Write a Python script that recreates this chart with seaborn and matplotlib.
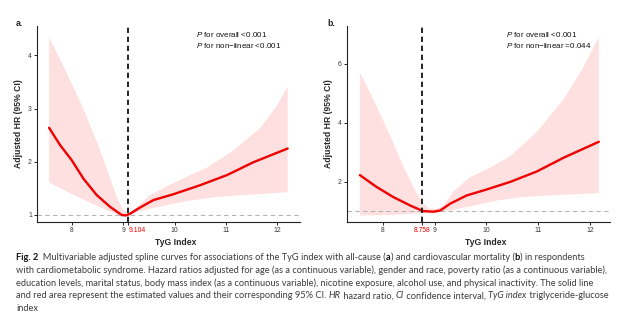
import matplotlib
matplotlib.use("Agg")
import matplotlib.pyplot as plt
import seaborn as sns
import pandas as pd
import numpy as np

# ---- data: restricted cubic spline estimates (HR and 95% CI) ----
# (a) all-cause mortality
tyg_a = [7.56, 7.77, 8.0, 8.23, 8.49, 8.75, 8.97, 9.05, 9.13, 9.33, 9.59, 9.98, 10.5, 11.02, 11.53, 12.2]
hr_a = [2.64, 2.32, 2.03, 1.68, 1.37, 1.15, 1.0, 0.99, 1.02, 1.14, 1.28, 1.39, 1.56, 1.75, 1.99, 2.25]
tyg_a_upper = [7.56, 7.90, 8.23, 8.55, 8.75, 8.88, 9.0, 9.13, 9.33, 9.52, 9.85, 10.24, 10.63, 11.14, 11.66, 11.99, 12.2]
hr_a_upper = [4.34, 3.68, 2.99, 2.23, 1.68, 1.33, 1.09, 1.04, 1.2, 1.37, 1.54, 1.72, 1.89, 2.21, 2.63, 3.05, 3.42]
tyg_a_lower = [7.56, 7.90, 8.29, 8.68, 8.97, 9.13, 9.33, 9.72, 10.24, 10.75, 11.27, 11.79, 12.2]
hr_a_lower = [1.61, 1.44, 1.26, 1.09, 0.97, 0.99, 1.07, 1.16, 1.26, 1.33, 1.37, 1.40, 1.43]

# (b) cardiovascular mortality
tyg_b = [7.56, 7.88, 8.2, 8.53, 8.78, 8.98, 9.11, 9.3, 9.62, 10.0, 10.46, 10.97, 11.49, 12.17]
hr_b = [2.22, 1.82, 1.48, 1.19, 1.0, 0.98, 1.02, 1.25, 1.53, 1.73, 1.99, 2.34, 2.81, 3.35]
tyg_b_upper = [7.56, 7.88, 8.2, 8.4, 8.53, 8.66, 8.78, 8.91, 9.04, 9.17, 9.36, 9.69, 10.0, 10.46, 10.97, 11.49, 11.87, 12.17]
hr_b_upper = [5.71, 4.57, 3.33, 2.51, 2.05, 1.59, 1.25, 1.08, 1.08, 1.19, 1.65, 2.16, 2.40, 2.86, 3.68, 4.79, 5.87, 6.90]
tyg_b_lower = [7.56, 8.2, 8.72, 8.98, 9.3, 9.69, 10.2, 10.71, 11.23, 12.17]
hr_b_lower = [0.85, 0.87, 0.93, 0.92, 1.02, 1.16, 1.36, 1.48, 1.53, 1.61]

cutoff_a = 9.104
cutoff_b = 8.758
x_ticks = [8, 9, 10, 11, 12]
y_ticks_a = [1, 2, 3, 4]
y_ticks_b = [2, 4, 6]
p_text_a = ["for overall <0.001", "for non\u2212linear <0.001"]
p_text_b = ["for overall <0.001", "for non\u2212linear =0.044"]

sns.set_theme(style="ticks")
plt.rcParams["font.family"] = ["Liberation Sans", "DejaVu Sans"]
plt.rcParams["mathtext.fontset"] = "custom"
plt.rcParams["mathtext.it"] = "Liberation Sans:italic"
plt.rcParams["mathtext.rm"] = "Liberation Sans"

W, H = 618, 325
fig = plt.figure(figsize=(W / 100, H / 100), dpi=100)


def px_box(left, top, right, bottom):
    return [left / W, 1 - bottom / H, (right - left) / W, (bottom - top) / H]


RED = "#F00000"
BAND = "#FFE0E0"
TICK_C = "#3A3A3A"


def draw_panel(ax, x, hr, xu, hi, xl, lo, cutoff, yticks, xlim, ylim, ptext, cut_ha):
    df = pd.DataFrame({"TyG": x, "HR": hr})
    # confidence band as a closed polygon: upper bound forward, lower bound back
    ax.fill(list(xu) + list(xl)[::-1], list(hi) + list(lo)[::-1], color=BAND, lw=0, zorder=1)
    ax.axhline(1, color="#B5B5B5", lw=0.8, ls=(0, (4, 3)), zorder=2)
    sns.lineplot(data=df, x="TyG", y="HR", ax=ax, color=RED, lw=1.7, zorder=3)
    ax.axvline(cutoff, color="black", lw=1.2, ls=(0, (3.2, 2.2)), zorder=4)
    ax.set_xlim(*xlim)
    ax.set_ylim(*ylim)
    ticks = sorted(x_ticks + [cutoff])
    ax.set_xticks(ticks)
    ax.set_xticklabels([(f"{t:g}" if t != cutoff else f"{cutoff:.3f}") for t in ticks])
    ax.set_yticks(yticks)
    ax.tick_params(axis="both", labelsize=4.9, length=2.2, width=0.6, pad=1.5,
                   colors="black", labelcolor=TICK_C)
    for t, lab in zip(ticks, ax.get_xticklabels()):
        if t == cutoff:
            lab.set_color(RED)
            lab.set_ha(cut_ha)
    sns.despine(ax=ax)
    for s in ("left", "bottom"):
        ax.spines[s].set_linewidth(0.8)
        ax.spines[s].set_color("#222222")
    ax.set_xlabel("")
    ax.set_ylabel("Adjusted HR (95% CI)", fontsize=6.2, fontweight="bold", labelpad=3.5)
    ax.set_facecolor("white")
    for i, s in enumerate(ptext):
        ax.text(0.605, 0.955 - i * 0.055, r"$\it{P}$ " + s, transform=ax.transAxes,
                fontsize=5.8, va="center", ha="left", color="#111111")


ax_a = fig.add_axes(px_box(37, 26, 300, 222))
ax_b = fig.add_axes(px_box(347, 26, 610, 222))

draw_panel(ax_a, tyg_a, hr_a, tyg_a_upper, hr_a_upper, tyg_a_lower, hr_a_lower,
           cutoff_a, y_ticks_a, (7.325, 12.44), (0.867, 4.555), p_text_a, "left")
draw_panel(ax_b, tyg_b, hr_b, tyg_b_upper, hr_b_upper, tyg_b_lower, hr_b_lower,
           cutoff_b, y_ticks_b, (7.311, 12.386), (0.630, 7.277), p_text_b, "center")

# panel tags and x-axis titles
fig.text(19 / W, 1 - 23 / H, "a.", fontsize=6.4, fontweight="bold", ha="center", va="center")
fig.text(331 / W, 1 - 23 / H, "b.", fontsize=6.4, fontweight="bold", ha="center", va="center")
fig.text(175.5 / W, 1 - 242.5 / H, "TyG Index", fontsize=6.2, fontweight="bold", ha="center", va="center")
fig.text(485.5 / W, 1 - 242.5 / H, "TyG Index", fontsize=6.2, fontweight="bold", ha="center", va="center")

# ---- figure caption with mixed bold / italic runs ----
cap_family = ["Lato", "DejaVu Sans"]
cap_size = 6.65
cap_color = "#3C3C3C"
caption = [
    [("Fig. 2", "bold", "normal", "#111111"),
     ("  Multivariable adjusted spline curves for associations of the TyG index with all-cause (", "normal", "normal", None),
     ("a", "bold", "normal", "#111111"),
     (") and cardiovascular mortality (", "normal", "normal", None),
     ("b", "bold", "normal", "#111111"),
     (") in respondents", "normal", "normal", None)],
    [("with cardiometabolic syndrome. Hazard ratios adjusted for age (as a continuous variable), gender and race, poverty ratio (as a continuous variable),",
      "normal", "normal", None)],
    [("education levels, marital status, body mass index (as a continuous variable), nicotine exposure, alcohol use, and physical inactivity. The solid line",
      "normal", "normal", None)],
    [("and red area represent the estimated values and their corresponding 95% CI. ", "normal", "normal", None),
     ("HR", "normal", "italic", None),
     (" hazard ratio, ", "normal", "normal", None),
     ("CI", "normal", "italic", None),
     (" confidence interval, ", "normal", "normal", None),
     ("TyG index", "normal", "italic", None),
     (" triglyceride-glucose", "normal", "normal", None)],
    [("index", "normal", "normal", None)],
]

renderer = fig.canvas.get_renderer()


def run_width(text, weight, style):
    # advance width of a run, leading/trailing spaces included
    probe = fig.text(0, 0, "|" + text + "|", fontsize=cap_size, family=cap_family,
                     weight=weight, style=style)
    bar = fig.text(0, 0, "||", fontsize=cap_size, family=cap_family, weight=weight, style=style)
    w = probe.get_window_extent(renderer).width - bar.get_window_extent(renderer).width
    probe.remove()
    bar.remove()
    return w


x0 = 16
baselines = [260, 273, 285.7, 298.2, 311]
for line, yb in zip(caption, baselines):
    x = x0
    for text, weight, style, col in line:
        fig.text(x / W, 1 - yb / H, text, fontsize=cap_size, family=cap_family,
                 weight=weight, style=style, color=col or cap_color, va="baseline", ha="left")
        x += run_width(text, weight, style)

fig.savefig("out.png", dpi=100, facecolor="white")
